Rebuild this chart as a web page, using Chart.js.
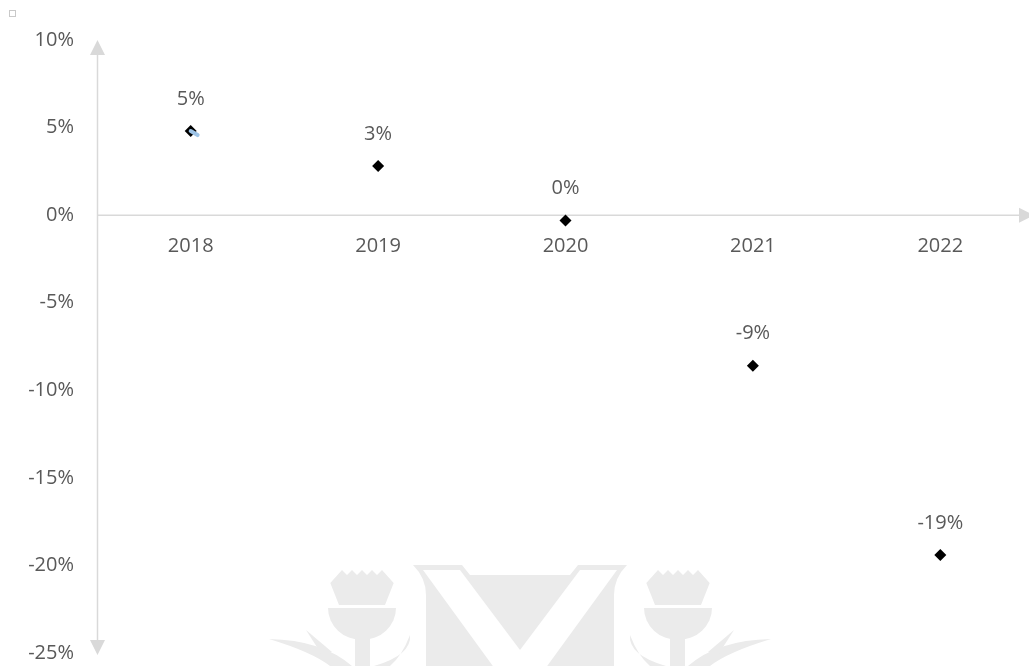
<!DOCTYPE html>
<html>
<head>
<meta charset="utf-8">
<title>Growth by year</title>
<script src="https://cdn.jsdelivr.net/npm/chart.js@4.4.1/dist/chart.umd.min.js"></script>
<style>
    html, body { margin: 0; padding: 0; background: #fff; overflow: hidden; }
    /* a bit larger than the window: the x axis still keeps a strip at the bottom */
    #wrap { position: absolute; left: 0; top: 0; width: 1040px; height: 688px; }
</style>
</head>
<body>
<div id="wrap"><canvas id="chart"></canvas></div>
<script>
// Chart data
const years = [2018, 2019, 2020, 2021, 2022];
const growth = [4.8, 2.8, -0.3, -8.6, -19.4];
const yTicks = [10, 5, 0, -5, -10, -15, -20, -25];
// small blue stub peeking out from under the 2018 marker
const stubX = [2018, 2018.037];
const stubY = [4.8, 4.57];

const textColor = '#595959';
const axisColor = '#d9d9d9';
const font = { family: "'Open Sans', sans-serif", size: 20 };

// Faint logo in the background
function drawThistle(ctx, cx, flip) {
    ctx.save();
    ctx.translate(cx, 0);
    if (flip) ctx.scale(-1, 1);
    // crown
    ctx.beginPath();
    const crown = [[-31.7, 583], [-20, 570], [-15, 575], [-10, 570], [-5, 575], [0, 570], [5, 575],
                   [10, 570], [15, 575], [20, 570], [31.7, 583], [23, 605], [-23, 605]];
    crown.forEach((p, i) => i ? ctx.lineTo(p[0], p[1]) : ctx.moveTo(p[0], p[1]));
    ctx.closePath();
    ctx.fill();
    // bowl
    ctx.beginPath();
    ctx.ellipse(0, 608, 34, 32, 0, 0, Math.PI);
    ctx.closePath();
    ctx.fill();
    // stem
    ctx.fillRect(-7, 638, 15, 30);
    // leaves
    ctx.beginPath();
    ctx.moveTo(-10, 666);
    ctx.quadraticCurveTo(-40, 640, -93, 639);
    ctx.quadraticCurveTo(-50, 652, -32, 666);
    ctx.closePath();
    ctx.fill();
    ctx.beginPath();
    ctx.moveTo(-30, 652);
    ctx.lineTo(-56, 630);
    ctx.lineTo(-40, 655);
    ctx.closePath();
    ctx.fill();
    ctx.beginPath();
    ctx.moveTo(12, 666);
    ctx.quadraticCurveTo(50, 655, 48, 635);
    ctx.quadraticCurveTo(40, 656, 28, 666);
    ctx.closePath();
    ctx.fill();
    ctx.restore();
}

function drawLogo(ctx) {
    ctx.save();
    ctx.fillStyle = '#ebebeb';
    // shield
    ctx.beginPath();
    ctx.moveTo(413, 565);
    ctx.lineTo(462, 565);
    ctx.lineTo(470, 575);
    ctx.lineTo(570, 575);
    ctx.lineTo(578, 565);
    ctx.lineTo(627, 565);
    ctx.quadraticCurveTo(614, 578, 614, 595);
    ctx.lineTo(614, 680);
    ctx.lineTo(426, 680);
    ctx.lineTo(426, 595);
    ctx.quadraticCurveTo(426, 578, 413, 565);
    ctx.closePath();
    ctx.fill();
    // white saltire
    ctx.fillStyle = '#fff';
    ctx.beginPath();
    ctx.moveTo(423, 570);
    ctx.lineTo(460, 570);
    ctx.lineTo(520, 650);
    ctx.lineTo(580, 570);
    ctx.lineTo(617, 570);
    ctx.lineTo(537, 680);
    ctx.lineTo(503, 680);
    ctx.closePath();
    ctx.fill();
    ctx.fillStyle = '#ebebeb';
    drawThistle(ctx, 362, false);
    drawThistle(ctx, 678, true);
    ctx.restore();
}

// Axis lines with arrow heads, crossing at 0%
const axesPlugin = {
    id: 'axes',
    beforeDatasetsDraw(chart) {
        const ctx = chart.ctx;
        const area = chart.chartArea;
        const x0 = area.left + 0.5;
        const y0 = chart.scales.y.getPixelForValue(0);
        const head = 15, half = 7.5;

        drawLogo(ctx);

        ctx.save();
        // tiny square top left
        ctx.strokeStyle = '#c9c9c9';
        ctx.lineWidth = 1;
        ctx.strokeRect(9.5, 10.5, 6, 6);

        ctx.strokeStyle = axisColor;
        ctx.fillStyle = axisColor;
        ctx.lineWidth = 1.5;
        ctx.beginPath();
        ctx.moveTo(x0, area.top + head);
        ctx.lineTo(x0, area.bottom + 2 - head);
        ctx.moveTo(x0, y0);
        ctx.lineTo(area.right - head, y0);
        ctx.stroke();

        ctx.beginPath();
        ctx.moveTo(x0, area.top);
        ctx.lineTo(x0 - half, area.top + head);
        ctx.lineTo(x0 + half, area.top + head);
        ctx.closePath();
        ctx.moveTo(x0, area.bottom + 2);
        ctx.lineTo(x0 - half, area.bottom + 2 - head);
        ctx.lineTo(x0 + half, area.bottom + 2 - head);
        ctx.closePath();
        ctx.moveTo(area.right, y0);
        ctx.lineTo(area.right - head, y0 - half);
        ctx.lineTo(area.right - head, y0 + half);
        ctx.closePath();
        ctx.fill();
        ctx.restore();
    }
};

// Value labels above the diamonds
const labelPlugin = {
    id: 'valueLabels',
    afterDatasetsDraw(chart) {
        const ctx = chart.ctx;
        const meta = chart.getDatasetMeta(1);
        ctx.save();
        ctx.font = font.size + 'px ' + font.family;
        ctx.fillStyle = textColor;
        ctx.textAlign = 'center';
        ctx.textBaseline = 'middle';
        meta.data.forEach((pt, i) => {
            const txt = (Math.round(growth[i]) + 0) + '%';
            ctx.fillText(txt, pt.x, pt.y - 32);
        });
        ctx.restore();
    }
};

new Chart(document.getElementById('chart'), {
    type: 'scatter',
    data: {
        datasets: [{
            data: stubX.map((x, i) => ({ x: x, y: stubY[i] })),
            showLine: true,
            borderColor: '#9dc3e6',
            borderWidth: 4,
            borderCapStyle: 'round',
            pointRadius: 0
        }, {
            data: years.map((yr, i) => ({ x: yr, y: growth[i] })),
            pointStyle: 'rectRot',
            pointRadius: 6,
            pointHoverRadius: 6,
            backgroundColor: '#000',
            borderColor: '#000',
            borderWidth: 0
        }]
    },
    options: {
        responsive: true,
        maintainAspectRatio: false,
        animation: false,
        layout: { padding: { top: 40, bottom: 12, left: 0, right: 2 } },
        plugins: {
            legend: { display: false },
            tooltip: { enabled: false }
        },
        scales: {
            x: {
                type: 'linear',
                min: 2017.5,
                max: 2022.5,
                position: { y: 0 },
                grid: { display: false, drawTicks: false },
                border: { display: false },
                afterBuildTicks: (scale) => {
                    scale.ticks = years.map(v => ({ value: v }));
                },
                ticks: {
                    font: font,
                    color: textColor,
                    padding: 19,
                    maxRotation: 0,
                    autoSkip: false,
                    callback: (v) => String(v)
                }
            },
            y: {
                min: -25,
                max: 10,
                grid: { display: false, drawTicks: false },
                border: { display: false },
                afterBuildTicks: (scale) => {
                    scale.ticks = yTicks.map(v => ({ value: v }));
                },
                afterFit: (scale) => { scale.width = 97; },
                ticks: {
                    font: font,
                    color: textColor,
                    padding: 23,
                    callback: (v) => v + '%'
                }
            }
        }
    },
    plugins: [axesPlugin, labelPlugin]
});
</script>
</body>
</html>
